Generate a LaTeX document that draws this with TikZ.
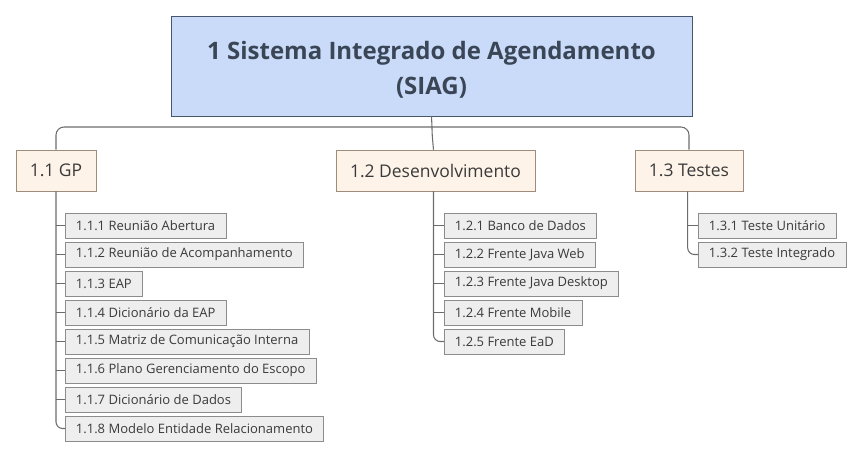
\documentclass[tikz,border=0pt]{standalone}
\usepackage{fontspec}
\setmainfont{Open Sans}
\definecolor{siagBlue}{RGB}{201,219,248}
\definecolor{siagBorder}{RGB}{72,86,108}
\definecolor{phaseFill}{RGB}{253,243,232}
\definecolor{phaseBorder}{RGB}{160,140,122}
\definecolor{taskFill}{RGB}{238,238,238}
\definecolor{taskBorder}{RGB}{140,140,140}
\definecolor{textGray}{RGB}{58,58,58}
\usetikzlibrary{positioning,calc}

\begin{document}
\begin{tikzpicture}[
    x=0.75pt, y=-0.75pt,
    root/.style={draw=siagBorder, fill=siagBlue, minimum width=390.75pt,
      minimum height=75pt, align=center, text=siagBorder!80!black,
      text height=45pt, font=\fontsize{18}{26}\selectfont\bfseries},
    phase/.style={draw=phaseBorder, fill=phaseFill, minimum height=30.75pt,
      inner xsep=10.5pt, text=textGray, font=\fontsize{13.1}{15}\selectfont},
    task/.style={draw=taskBorder, fill=taskFill, minimum height=18.75pt,
      inner xsep=8pt, anchor=west, text=textGray,
      font=\fontsize{9.75}{11}\selectfont},
    link/.style={draw=gray!85!black, line width=0.8pt}
  ]
    \useasboundingbox (0,0) rectangle (865,458);

    \node[root] (siag) at (431.5,66) {1 Sistema Integrado de Agendamento\\(SIAG)};

    \node[phase] (gp) at (56,170.5) {1.1 GP};
    \node[phase] (dev) at (435.5,170.5) {1.2 Desenvolvimento};
    \node[phase] (tst) at (689,170.5) {1.3 Testes};

    % Bus from root to phases
    \coordinate (bus) at (432,127);
    \draw[link, rounded corners=6pt] (gp.north) |- (bus) -| (tst.north);
    \draw[link] (siag.south) -- (bus);
    \draw[link, rounded corners=4pt] (bus) -- ++(0,6) -- ([xshift=-1.5]dev.north);

    % 1.1 GP
    \node[task] (t11) at (65,225.5) {1.1.1 Reunião Abertura};
    \node[task] (t12) at (65,254.5) {1.1.2 Reunião de Acompanhamento};
    \node[task] (t13) at (65,283.5) {1.1.3 EAP};
    \node[task] (t14) at (65,312.5) {1.1.4 Dicionário da EAP};
    \node[task] (t15) at (65,341.5) {1.1.5 Matriz de Comunicação Interna};
    \node[task] (t16) at (65,370.5) {1.1.6 Plano Gerenciamento do Escopo};
    \node[task] (t17) at (65,399.5) {1.1.7 Dicionário de Dados};
    \node[task] (t18) at (65,428.5) {1.1.8 Modelo Entidade Relacionamento};

    % 1.2 Desenvolvimento
    \node[task] (t21) at (444,225.5) {1.2.1 Banco de Dados};
    \node[task] (t22) at (444,254.5) {1.2.2 Frente Java Web};
    \node[task] (t23) at (444,283.5) {1.2.3 Frente Java Desktop};
    \node[task] (t24) at (444,312.5) {1.2.4 Frente Mobile};
    \node[task] (t25) at (444,341.5) {1.2.5 Frente EaD};

    % 1.3 Testes
    \node[task] (t31) at (698,225.5) {1.3.1 Teste Unitário};
    \node[task] (t32) at (698,254.5) {1.3.2 Teste Integrado};

    % Branches to tasks
    \draw[link, rounded corners=5pt] (gp.south) |- (t18.west);
    \foreach \t in {t11,t12,t13,t14,t15,t16,t17}
      \draw[link] (gp.south |- \t.west) -- (\t.west);
    \draw[link, rounded corners=5pt] ([xshift=-1.5]dev.south) |- (t25.west);
    \foreach \t in {t21,t22,t23,t24}
      \draw[link] ([xshift=-1.5]dev.south |- \t.west) -- (\t.west);
    \draw[link, rounded corners=5pt] ([xshift=-1]tst.south) |- (t32.west);
    \draw[link] ([xshift=-1]tst.south |- t31.west) -- (t31.west);
\end{tikzpicture}
\end{document}
